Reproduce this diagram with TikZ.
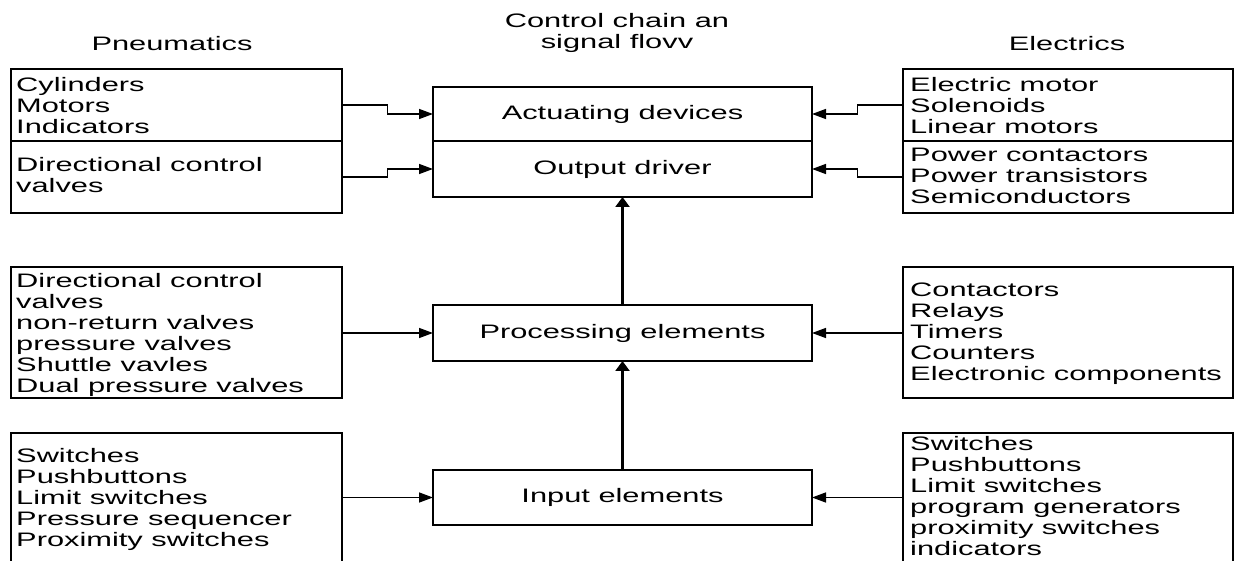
\documentclass[tikz,border=0pt]{standalone}
\usepackage{fontspec}
\setmainfont[FakeStretch=1.58]{Liberation Sans}
\usetikzlibrary{arrows.meta,calc}
\tikzset{
  box/.style={draw=black, line width=2pt, inner sep=0pt, outer sep=0pt, anchor=north west},
  lbl/.style={inner sep=0pt, anchor=north west, align=left, font=\fontsize{19.5}{21}\selectfont},
  ctext/.style={font=\fontsize{19.5}{21}\selectfont},
  conn/.style={line width=1.5pt, -{Triangle[length=14pt,width=10pt]}},
  vconn/.style={line width=2.2pt, -{Triangle[length=10pt,width=14pt]}}
}
\begin{document}
\begin{tikzpicture}[x=1pt,y=-1pt]
\useasboundingbox (0,0) rectangle (1235,561);
% titles
\node[ctext, anchor=base] (tp) at (172,51) {Pneumatics};
\node[ctext, anchor=base] (te) at (1067,51) {Electrics};
\node[ctext, anchor=north, align=center, inner sep=0pt] (tc) at (617,12.3) {\strut Control chain an\\signal flovv};
% left boxes
\node[box, minimum width=331pt, minimum height=72pt] (pa) at (11,69) {};
\node[box, minimum width=331pt, minimum height=72pt] (pb) at (11,141) {};
\node[box, minimum width=331pt, minimum height=131pt] (lc) at (11,267) {};
\node[box, minimum width=331pt, minimum height=131pt] (ld) at (11,433) {};
\node[lbl] (paT) at (16,76.3) {\strut Cylinders\\Motors\\Indicators};
\node[lbl] (pbT) at (16,156.3) {\strut Directional control\\valves};
\node[lbl] (lcT) at (16,272.3) {\strut Directional control\\valves\\non-return valves\\pressure valves\\Shuttle vavles\\Dual pressure valves};
\node[lbl] (ldT) at (16,447.3) {\strut Switches\\Pushbuttons\\Limit switches\\Pressure sequencer\\Proximity switches};
% right boxes
\node[box, minimum width=330pt, minimum height=72pt] (ra) at (903,69) {};
\node[box, minimum width=330pt, minimum height=72pt] (rb) at (903,141) {};
\node[box, minimum width=330pt, minimum height=131pt] (rc) at (903,267) {};
\node[box, minimum width=330pt, minimum height=131pt] (rd) at (903,433) {};
\node[lbl] (raT) at (910,76.3) {\strut Electric motor\\Solenoids\\Linear motors};
\node[lbl] (rbT) at (910,146.3) {\strut Power contactors\\Power transistors\\Semiconductors};
\node[lbl] (rcT) at (910,281.3) {\strut Contactors\\Relays\\Timers\\Counters\\Electronic components};
\node[lbl] (rdT) at (910,435.3) {\strut Switches\\Pushbuttons\\Limit switches\\program generators\\proximity switches\\indicators};
% centre boxes
\node[box, ctext, anchor=north west, minimum width=379pt, minimum height=54pt] (act) at (433,87) {Actuating devices};
\node[box, ctext, anchor=north west, minimum width=379pt, minimum height=56pt] (out) at (433,141) {Output driver};
\node[box, ctext, anchor=north west, minimum width=379pt, minimum height=56pt] (proc) at (433,305) {Processing elements};
\node[box, ctext, anchor=north west, minimum width=379pt, minimum height=55pt] (inp) at (433,470) {Input elements};
% connectors left
\draw[conn] (pa.east) -| ($(pa.east)!0.5!(act.west)$) |- (act.west);
\draw[conn] (pb.east) -| ($(pb.east)!0.5!(out.west)$) |- (out.west);
\draw[conn] (proc.west -| lc.east) -- (proc.west);
\draw[conn] (inp.west -| ld.east) -- (inp.west);
% connectors right
\draw[conn] (ra.west) -| ($(ra.west)!0.5!(act.east)$) |- (act.east);
\draw[conn] (rb.west) -| ($(rb.west)!0.5!(out.east)$) |- (out.east);
\draw[conn] (proc.east -| rc.west) -- (proc.east);
\draw[conn] (inp.east -| rd.west) -- (inp.east);
% vertical flow
\draw[vconn] (inp.north) -- (proc.south);
\draw[vconn] (proc.north) -- (out.south);
\end{tikzpicture}
\end{document}
